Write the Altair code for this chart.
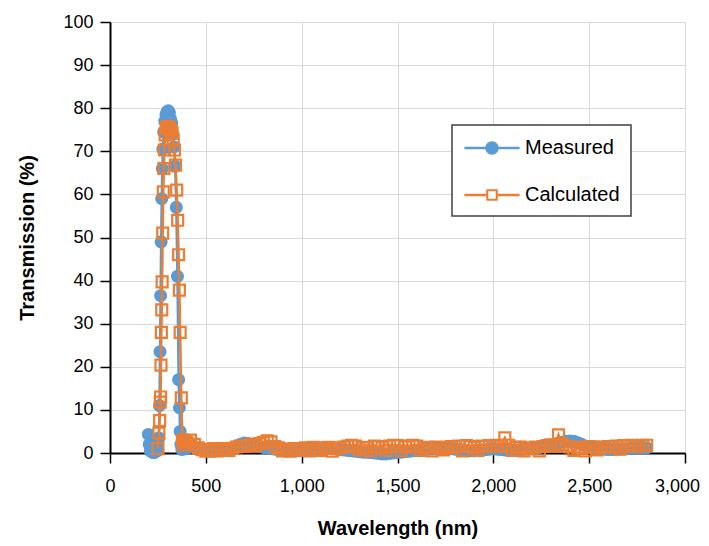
import altair as alt
import pandas as pd

BLUE = "#5b9bd5"
ORANGE = "#ed7d31"
FONT = "Liberation Sans"

# ---- Measured series ----
meas_wl = [200, 205, 210, 215, 220, 225, 230, 235, 240, 245,
           250, 255, 258, 261, 264, 267, 270, 273, 276, 280,
           286, 292, 298, 304, 310, 316, 322, 328, 334, 340,
           346, 352, 358, 362, 366, 370, 375, 380, 390,
           400, 420, 440, 460, 480, 500, 520, 540, 560, 580,
           600, 620, 640, 660, 680, 700, 720, 740, 760, 780,
           800, 820, 840, 860, 880, 900, 920, 940, 960, 980,
           1000, 1020, 1040, 1060, 1080, 1100, 1120, 1140, 1160, 1180,
           1200, 1220, 1240, 1260, 1280, 1300, 1320, 1340, 1360, 1380,
           1400, 1420, 1440, 1460, 1480, 1500, 1520, 1540, 1560, 1580,
           1600, 1620, 1640, 1660, 1680, 1700, 1720, 1740, 1760, 1780,
           1800, 1820, 1840, 1860, 1880, 1900, 1920, 1940, 1960, 1980,
           2000, 2020, 2040, 2060, 2080, 2100, 2120, 2140, 2160, 2180,
           2200, 2220, 2240, 2260, 2280, 2300, 2320, 2340, 2360, 2380,
           2400, 2420, 2440, 2460, 2480, 2500, 2520, 2540, 2560, 2580,
           2600, 2620, 2640, 2660, 2680, 2700, 2720, 2740, 2760, 2780,
           2800]
meas_val = [4.3, 2.0, 0.5, 1.2, 0.3, 0.1, 0.4, 0.2, 0.8, 1.5,
            0.6, 3.5, 11.0, 23.5, 36.5, 49.0, 59.0, 66.0, 70.5, 74.5,
            77.0, 78.5, 79.2, 79.4, 79.0, 77.5, 76.5, 74.0, 71.0, 66.5,
            57.0, 41.0, 17.0, 10.5, 5.0, 2.0, 0.8, 2.8, 1.5,
            1.0, 2.2, 1.5, 1.0, 0.8, 0.6, 0.5, 0.4, 0.5, 0.6,
            0.8, 1.0, 1.2, 1.6, 2.0, 2.3, 2.2, 2.0, 1.8, 1.5,
            1.3, 1.2, 1.0, 0.9, 0.8, 0.7, 0.6, 0.6, 0.5, 0.5,
            0.6, 0.7, 0.8, 0.9, 1.0, 1.1, 1.2, 1.1, 1.0, 0.9,
            0.8, 0.7, 0.6, 0.5, 0.4, 0.3, 0.2, 0.2, 0.1, 0.0,
            -0.1, -0.2, -0.2, -0.1, 0.0, 0.1, 0.2, 0.3, 0.4, 0.5,
            0.6, 0.7, 0.8, 0.9, 1.0, 1.1, 1.2, 1.2, 1.1, 1.0,
            0.9, 0.8, 0.7, 0.6, 0.5, 0.5, 0.6, 0.7, 0.8, 0.9,
            1.0, 0.9, 0.8, 0.7, 0.6, 0.6, 0.7, 0.8, 0.9, 1.0,
            1.1, 1.2, 1.3, 1.5, 1.7, 1.9, 2.1, 2.3, 2.5, 2.7,
            2.8, 2.7, 2.4, 2.0, 1.6, 1.3, 1.1, 1.0, 0.9, 0.9,
            0.8, 0.8, 0.9, 0.9, 1.0, 1.0, 1.1, 1.1, 1.2, 1.2,
            1.2]

# ---- Calculated series ----
calc_wl = [250, 255, 259, 262, 264, 266, 268, 270, 272, 275,
           278, 281, 284, 288, 293, 300, 308, 316, 324, 330,
           336, 342, 348, 353, 358, 362, 366, 372, 378, 385,
           392,
           400, 420, 440, 460, 480, 500, 520, 540, 560, 580,
           600, 620, 640, 660, 680, 700, 720, 740, 760, 780,
           800, 820, 840, 860, 880, 900, 920, 940, 960, 980,
           1000, 1020, 1040, 1060, 1080, 1100, 1120, 1140, 1160, 1180,
           1200, 1220, 1240, 1260, 1280, 1300, 1320, 1340, 1360, 1380,
           1400, 1420, 1440, 1460, 1480, 1500, 1520, 1540, 1560, 1580,
           1600, 1620, 1640, 1660, 1680, 1700, 1720, 1740, 1760, 1780,
           1800, 1820, 1840, 1860, 1880, 1900, 1920, 1940, 1960, 1980,
           2000, 2020, 2040, 2060, 2080, 2100, 2120, 2140, 2160, 2180,
           2200, 2220, 2240, 2260, 2280, 2300, 2320, 2340, 2360, 2380,
           2400, 2420, 2440, 2460, 2480, 2500, 2520, 2540, 2560, 2580,
           2600, 2620, 2640, 2660, 2680, 2700, 2720, 2740, 2760, 2780,
           2800]
calc_val = [1.0, 4.6, 7.5, 11.8, 13.0, 20.4, 28.0, 33.2, 39.7, 51.0,
            60.6, 66.0, 70.3, 73.8, 75.3, 75.8, 75.5, 75.0, 74.2, 72.6,
            70.3, 66.8, 61.0, 54.0, 46.0, 37.8, 28.0, 12.8, 3.0, 1.8,
            2.8,
            2.5, 3.0, 2.0, 1.2, 0.8, 0.4, 0.6, 1.0, 0.5, 0.8,
            1.0, 0.6, 1.1, 1.4, 1.6, 1.5, 1.8, 2.0, 1.7, 2.2,
            2.4, 2.8, 2.6, 1.5, 1.2, 0.5, 0.9, 0.4, 1.0, 0.7,
            1.0, 1.2, 0.5, 1.3, 1.2, 0.6, 1.1, 1.3, 0.4, 1.0,
            1.2, 1.4, 1.6, 1.8, 1.6, 0.7, 1.3, 1.2, 0.5, 1.6,
            1.5, 1.3, 0.6, 1.6, 1.8, 1.7, 0.5, 1.4, 1.6, 1.8,
            1.6, 0.6, 1.2, 1.3, 0.5, 1.4, 1.2, 0.7, 1.3, 1.5,
            1.4, 1.6, 0.5, 1.7, 1.5, 1.3, 0.6, 1.6, 1.5, 1.7,
            1.6, 1.8, 1.6, 3.5, 1.8, 0.6, 1.3, 1.4, 0.5, 1.0,
            1.2, 1.4, 0.5, 1.5, 1.7, 1.9, 1.6, 4.2, 2.0, 1.6,
            1.4, 0.6, 1.3, 1.1, 0.5, 1.5, 1.4, 0.7, 1.4, 1.3,
            1.5, 1.4, 1.6, 0.9, 1.7, 1.6, 1.8, 1.7, 1.6, 1.8,
            1.8]

series_names = ["Measured", "Calculated"]
x_ticks = [0, 500, 1000, 1500, 2000, 2500, 3000]
y_ticks = [0, 10, 20, 30, 40, 50, 60, 70, 80, 90, 100]

dfm = pd.DataFrame({"wl": meas_wl, "T": meas_val})
dfc = pd.DataFrame({"wl": calc_wl, "T": calc_val})

x_enc = alt.X("wl:Q",
              scale=alt.Scale(domain=[0, 3000], nice=False),
              axis=alt.Axis(values=x_ticks, format=",d", title="Wavelength (nm)",
                            labelFlush=False,
                            labelOffset={"condition": {"test": "datum.value == 3000", "value": -8},
                                         "value": 0},
                            grid=True, gridColor="#d9d9d9", gridWidth=1,
                            domainColor="black", domainWidth=2,
                            tickColor="black", tickSize=10, tickWidth=1.5,
                            labelFont=FONT, labelFontSize=18, labelColor="black",
                            labelPadding=14,
                            titleFont=FONT, titleFontSize=20, titleFontWeight="bold",
                            titleColor="black", titlePadding=23))
y_enc = alt.Y("T:Q",
              scale=alt.Scale(domain=[0, 100], nice=False),
              axis=alt.Axis(values=y_ticks, title="Transmission (%)",
                            grid=True, gridColor="#d9d9d9", gridWidth=1,
                            domainColor="black", domainWidth=2,
                            tickColor="black", tickSize=10, tickWidth=1.5,
                            labelFont=FONT, labelFontSize=18, labelColor="black",
                            labelPadding=7,
                            titleFont=FONT, titleFontSize=20, titleFontWeight="bold",
                            titleColor="black", titlePadding=25))

m_line = alt.Chart(dfm).mark_line(color=BLUE, strokeWidth=2.5).encode(x=x_enc, y=y_enc)
m_pts = alt.Chart(dfm).mark_point(shape="circle", filled=True, size=170,
                                  color=BLUE, opacity=1).encode(x="wl:Q", y="T:Q")
c_line = alt.Chart(dfc).mark_line(color=ORANGE, strokeWidth=2.5).encode(x="wl:Q", y="T:Q")
c_pts = alt.Chart(dfc).mark_point(shape="square", filled=False, size=120,
                                  color=ORANGE, strokeWidth=2.2, opacity=1).encode(x="wl:Q", y="T:Q")

# legend-only layer (no rows): symbols combine line + marker
meas_path = ("M-2.3,-0.11H2.3V0.11H-2.3Z"
             "M-0.56,0A0.56,0.56,0,1,1,0.56,0A0.56,0.56,0,1,1,-0.56,0Z")
calc_path = ("M-2.3,-0.11H-0.48V0.11H-2.3Z"
             "M0.48,-0.11H2.3V0.11H0.48Z"
             "M-0.48,-0.48H0.48V0.48H-0.48Z"
             "M-0.31,-0.31V0.31H0.31V-0.31Z")
legend_df = pd.DataFrame({"series": pd.Series([], dtype=str)})
leg = alt.Legend(orient="none", legendX=342, legendY=103, title=None,
                 labelFont=FONT, labelFontSize=20, labelColor="black",
                 symbolSize=576, symbolStrokeWidth=0, symbolOpacity=1,
                 labelOffset=21, symbolOffset=17, rowPadding=25,
                 padding=11, strokeColor="#404040", fillColor="white")
legend_layer = alt.Chart(legend_df).mark_point(filled=True, opacity=1).encode(
    color=alt.Color("series:N", scale=alt.Scale(domain=series_names, range=[BLUE, ORANGE]),
                    legend=leg),
    shape=alt.Shape("series:N", scale=alt.Scale(domain=series_names, range=[meas_path, calc_path]),
                    legend=leg),
)

chart = alt.layer(m_line, m_pts, c_line, c_pts, legend_layer).properties(
    width=575, height=431,
    autosize=alt.AutoSizeParams(type="none"),
    padding={"left": 102, "top": 14, "right": 16, "bottom": 92},
).configure_view(stroke="black", strokeWidth=2).configure(background="white"
).configure_legend(strokeWidth=1.5)

chart.save("out.html", embed_options={"renderer": "svg", "actions": False})
